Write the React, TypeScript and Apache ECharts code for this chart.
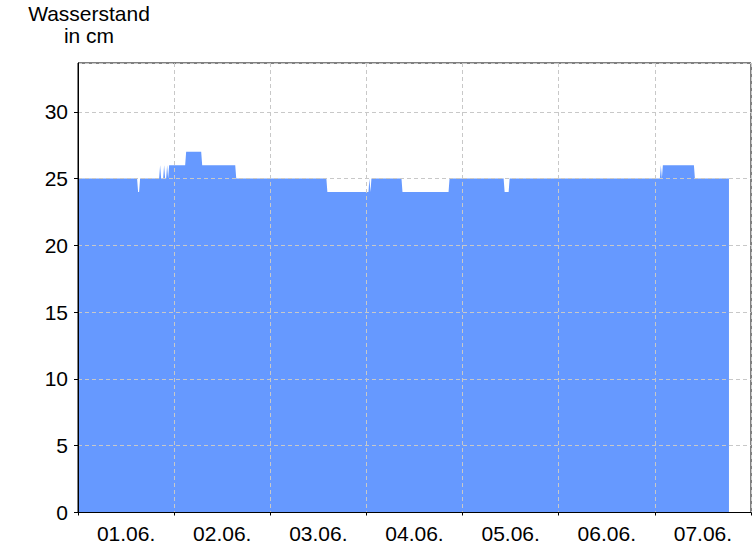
import React, { useEffect, useRef } from "react";
import * as echarts from "echarts";

// Hours since 01.06. 00:00 and water level (cm) at each reading
const hours = [0, 14.75, 15, 15.25, 15.5, 20.25, 20.5, 20.75, 21.25, 21.5, 21.75, 22, 22.25, 22.5, 22.75, 26.75, 27, 30.75, 31, 39.25, 39.5, 62, 62.25, 72.5, 72.75, 73, 73.25, 80.75, 81, 92.5, 92.75, 106.25, 106.5, 107.5, 107.75, 145.25, 145.5, 145.75, 146, 153.75, 154, 162.5];
const levels = [25, 25, 24, 24, 25, 25, 26, 25, 25, 26, 25, 25, 26, 25, 26, 26, 27, 27, 26, 26, 25, 25, 24, 24, 25, 24, 25, 25, 24, 24, 25, 25, 24, 24, 25, 25, 26, 25, 26, 26, 25, 25];
const dayLabels = ["01.06.", "02.06.", "03.06.", "04.06.", "05.06.", "06.06.", "07.06."];
const yMax = 33.65;

const FONT = "'Liberation Sans', Arial, sans-serif";
const FS = 21;

export default function App() {
  const ref = useRef<HTMLDivElement>(null);
  useEffect(() => {
    if (!ref.current) return;
    const chart = echarts.init(ref.current, null, { renderer: "svg" });
    const data = hours.map((h, i) => [h, levels[i]]);
    const split = { show: true, lineStyle: { color: "#c8c8c8", type: [4, 3] as any, width: 1 } };
    chart.setOption({
      animation: false,
      backgroundColor: "#fff",
      textStyle: { fontFamily: FONT },
      grid: { left: 78, right: 5, top: 63, bottom: 33.5, show: true, borderColor: "#000", borderWidth: 1, backgroundColor: "#fff" },
      graphic: [
        {
          type: "text",
          x: 89,
          y: 2,
          style: { text: "Wasserstand\nin cm", fontSize: FS, fontFamily: FONT, fill: "#000", textAlign: "center", lineHeight: 22 },
        },
      ],
      xAxis: [
        {
          type: "value",
          min: 0,
          max: 168,
          interval: 24,
          z: 5,
          axisLine: { show: true, lineStyle: { color: "#000", width: 1 } },
          axisTick: { show: true, length: 3, lineStyle: { color: "#000" } },
          axisLabel: { show: false },
          splitLine: split,
        },
        {
          type: "category",
          data: dayLabels,
          boundaryGap: true,
          position: "bottom",
          axisLine: { show: false },
          axisTick: { show: false },
          splitLine: { show: false },
          axisLabel: { color: "#000", fontSize: FS, fontFamily: FONT, margin: 10 },
        },
      ],
      yAxis: {
        type: "value",
        min: 0,
        max: yMax,
        interval: 5,
        z: 5,
        axisLine: { show: true, lineStyle: { color: "#000", width: 1 } },
        axisTick: { show: true, length: 4, lineStyle: { color: "#000" } },
        axisLabel: {
          color: "#000",
          fontSize: FS,
          fontFamily: FONT,
          margin: 10,
          showMaxLabel: false,
          formatter: (v: number) => (v % 5 === 0 ? String(v) : ""),
        },
        splitLine: split,
      },
      series: [
        {
          type: "line",
          xAxisIndex: 0,
          data,
          showSymbol: false,
          symbol: "none",
          lineStyle: { width: 0, color: "#6699ff" },
          areaStyle: { color: "#6699ff", opacity: 1 },
          z: 2,
        },
      ],
    });
    return () => chart.dispose();
  }, []);
  return <div ref={ref} style={{ position: "fixed", left: 0, top: 0, width: 756, height: 546 }} />;
}
